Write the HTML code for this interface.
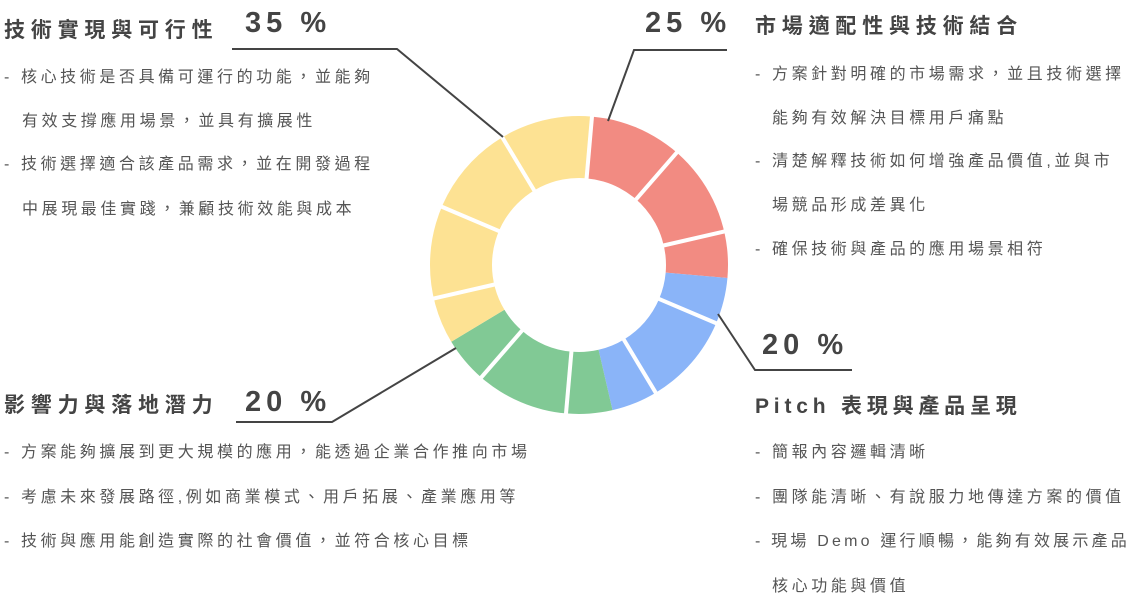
<!DOCTYPE html>
<html><head><meta charset="utf-8"><style>
body{margin:0;width:1137px;height:597px;background:#fff;overflow:hidden}
svg{display:block}
.t{font-family:"Liberation Sans","Noto Sans CJK TC",sans-serif;fill:#444;font-weight:bold;font-size:21px;letter-spacing:5.8px}
.p{font-family:"Liberation Sans","Noto Sans CJK TC",sans-serif;fill:#444;font-weight:bold;font-size:29px;letter-spacing:5px}
.b{font-family:"Liberation Sans","Noto Sans CJK TC",sans-serif;fill:#555;font-size:16px;letter-spacing:3.6px}
</style></head><body>
<svg width="1137" height="597">
<g id="donut"></g>
<g stroke="#444" stroke-width="2" fill="none">
<polyline points="232,49 397,49 503,137"/>
<polyline points="727,50 634,50 608,121"/>
<polyline points="718,314 755,370 852,370"/>
<polyline points="236,422 332,422 456,348"/>
</g>
<text class="t" x="4" y="37">技術實現與可行性</text>
<text class="p" x="245" y="32">35 %</text>
<text class="b" x="4" y="82">- 核心技術是否具備可運行的功能，並能夠</text>
<text class="b" x="22" y="126">有效支撐應用場景，並具有擴展性</text>
<text class="b" x="4" y="169">-  技術選擇適合該產品需求，並在開發過程</text>
<text class="b" x="22" y="214">中展現最佳實踐，兼顧技術效能與成本</text>

<text class="t" x="755" y="33">市場適配性與技術結合</text>
<text class="p" x="645" y="32">25 %</text>
<text class="b" x="755" y="79">- 方案針對明確的市場需求，並且技術選擇</text>
<text class="b" x="772" y="123">能夠有效解決目標用戶痛點</text>
<text class="b" x="755" y="166">- 清楚解釋技術如何增強產品價值,並與市</text>
<text class="b" x="772" y="210">場競品形成差異化</text>
<text class="b" x="755" y="254">- 確保技術與產品的應用場景相符</text>

<text class="p" x="762" y="354">20 %</text>
<text class="t" x="755" y="413" style="letter-spacing:4.8px">Pitch 表現與產品呈現</text>
<text class="b" x="755" y="457">- 簡報內容邏輯清晰</text>
<text class="b" x="755" y="502">- 團隊能清晰、有說服力地傳達方案的價值</text>
<text class="b" x="755" y="546" style="letter-spacing:3.2px">- 現場 Demo 運行順暢，能夠有效展示產品</text>
<text class="b" x="772" y="591">核心功能與價值</text>

<text class="t" x="4" y="412">影響力與落地潛力</text>
<text class="p" x="245" y="411">20 %</text>
<text class="b" x="4" y="457">- 方案能夠擴展到更大規模的應用，能透過企業合作推向市場</text>
<text class="b" x="4" y="502">- 考慮未來發展路徑,例如商業模式、用戶拓展、產業應用等</text>
<text class="b" x="4" y="546">- 技術與應用能創造實際的社會價值，並符合核心目標</text>
</svg>
<script>
const categories=["市場適配性與技術結合","Pitch 表現與產品呈現","影響力與落地潛力","技術實現與可行性"];
const values=[25,20,20,35];
const colors=["#f28b82","#8ab4f8","#81c995","#fde293"];
const cx=579,cy=265,R=149,r=87,startDeg=5,gapEvery=10;
const g=document.getElementById('donut');
const ns='http://www.w3.org/2000/svg';
const total=values.reduce((a,b)=>a+b,0);
function pt(deg,rad){const a=(deg-90)*Math.PI/180;return [cx+rad*Math.cos(a),cy+rad*Math.sin(a)];}
function arc(a0,a1){const [x0,y0]=pt(a0,R),[x1,y1]=pt(a1,R),[x2,y2]=pt(a1,r),[x3,y3]=pt(a0,r);const l=(a1-a0)>180?1:0;
return `M${x0},${y0}A${R},${R} 0 ${l} 1 ${x1},${y1}L${x2},${y2}A${r},${r} 0 ${l} 0 ${x3},${y3}Z`;}
let acc=0;
values.forEach((v,i)=>{
  const a0=startDeg+acc/total*360,a1=startDeg+(acc+v)/total*360;
  const p=document.createElementNS(ns,'path');
  p.setAttribute('d',arc(a0,a1));p.setAttribute('fill',colors[i]);
  
  
  g.appendChild(p);acc+=v;
});
for(let k=0;k<total;k+=gapEvery){
  const d=startDeg+k/total*360;
  const [x0,y0]=pt(d,r-2),[x1,y1]=pt(d,R+2);
  const l=document.createElementNS(ns,'line');
  l.setAttribute('x1',x0);l.setAttribute('y1',y0);l.setAttribute('x2',x1);l.setAttribute('y2',y1);
  l.setAttribute('stroke','#fff');l.setAttribute('stroke-width','4');
  
  
  g.appendChild(l);
}
</script>
</body></html>
